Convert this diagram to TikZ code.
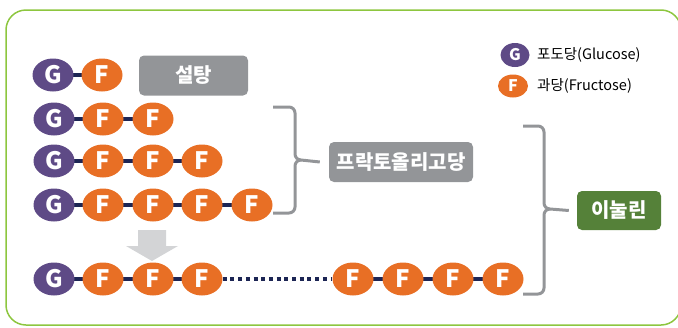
\documentclass[tikz,border=0pt]{standalone}
\usepackage{fontspec}
\setmainfont{Noto Sans CJK KR}
\usepackage{tikz}
\usetikzlibrary{shapes.geometric}

\definecolor{glupurple}{HTML}{5E4A86}
\definecolor{fruorange}{HTML}{E86F25}
\definecolor{bondnavy}{HTML}{1C2554}
\definecolor{bracegray}{HTML}{939598}
\definecolor{arrowgray}{HTML}{D3D4D6}
\definecolor{framegreen}{HTML}{8DC63F}
\definecolor{inulingreen}{HTML}{558139}

\begin{document}
\begin{tikzpicture}[x=1pt,y=-1pt,
	every node/.style={inner sep=0pt},
	sugar/.style={ellipse,minimum width=41pt,minimum height=33pt,text=white,
		font=\fontsize{24}{24}\selectfont\bfseries},
	glu/.style={sugar,fill=glupurple},
	fru/.style={sugar,fill=fruorange},
	keyglu/.style={glu,minimum width=29pt,minimum height=24pt,font=\fontsize{16}{16}\selectfont\bfseries},
	keyfru/.style={fru,minimum width=30pt,minimum height=23pt,font=\fontsize{16}{16}\selectfont\bfseries},
	bond/.style={bondnavy,line width=4pt},
	brace/.style={bracegray,line width=3pt,line join=round},
	tag/.style={rounded corners=5pt,text=white,minimum height=40pt,
		font=\fontsize{20}{20}\selectfont\bfseries}]
	\useasboundingbox (0,0) rectangle (678,327);
	\draw [framegreen,line width=1.5pt,rounded corners=20pt] (6,10) rectangle (681,325);
	% legend
	\node [keyglu] (keyg) at (515,55) {G};
	\node [anchor=west,font=\fontsize{14.5}{14.5}\selectfont] (keygtext) at (537,55) {포도당(Glucose)};
	\node [keyfru] (keyf) at (513,86) {F};
	\node [anchor=west,font=\fontsize{14.5}{14.5}\selectfont] (keyftext) at (537,86) {과당(Fructose)};
	% sucrose
	\draw [bond] (53,75) -- (102,75);
	\node [glu] (ga) at (53,75) {G};
	\node [fru] (fa1) at (102,75) {F};
	\node [tag,fill=bracegray,minimum width=109pt] (sucrose) at (193.5,75.5) {설탕};
	% fructooligosaccharides
	\draw [bond] (54,119) -- (153,119);
	\node [glu] (gb) at (54,119) {G};
	\node [fru] (fb1) at (103,119) {F};
	\node [fru] (fb2) at (153,119) {F};
	\draw [bond] (54,161) -- (202,161);
	\node [glu] (gc) at (54,161) {G};
	\node [fru] (fc1) at (103,161) {F};
	\node [fru] (fc2) at (153,161) {F};
	\node [fru] (fc3) at (202,161) {F};
	\draw [bond] (54,205) -- (252,205);
	\node [glu] (gd) at (54,205) {G};
	\node [fru] (fd1) at (103,205) {F};
	\node [fru] (fd2) at (153,205) {F};
	\node [fru] (fd3) at (202,205) {F};
	\node [fru] (fd4) at (252,205) {F};
	\node [tag,fill=bracegray,minimum width=144pt] (fos) at (401,162) {프락토올리고당};
	% arrow
	\fill [arrowgray] (138,230) -- (166,230) -- (166,246) -- (178,246) -- (152,261)
		-- (126,246) -- (138,246) -- cycle;
	% inulin
	\draw [bond] (54,279) -- (202,279);
	\draw [bond] (353,279) -- (503,279);
	\node [glu] (ge) at (54,279) {G};
	\node [fru] (fe1) at (103,279) {F};
	\node [fru] (fe2) at (153,279) {F};
	\node [fru] (fe3) at (202,279) {F};
	\node [fru] (fe4) at (353,279) {F};
	\node [fru] (fe5) at (403,279) {F};
	\node [fru] (fe6) at (453,279) {F};
	\node [fru] (fe7) at (503,279) {F};
	\draw [bondnavy,line width=4pt,dash pattern=on 4pt off 3.7pt] (fe3) -- (fe4);
	\node [tag,fill=inulingreen,minimum width=84pt,minimum height=39pt] (inulin) at (619,210.5) {이눌린};
	% braces
	\draw [brace] (273,107) -- (289,107) to[out=0,in=90] (295,113) -- (295,154)
		to[out=-90,in=180] (301,160) -- ([xshift=-9pt]fos.west);
	\draw [brace] (273,213) -- (289,213) to[out=0,in=-90] (295,207) -- (295,166)
		to[out=90,in=180] (301,160);
	\draw [brace] (523,126) -- (538,126) to[out=0,in=90] (544,132) -- (544,203)
		to[out=-90,in=180] (550,209) -- ([xshift=-8pt]inulin.west);
	\draw [brace] (523,294) -- (538,294) to[out=0,in=-90] (544,288) -- (544,215)
		to[out=90,in=180] (550,209);
\end{tikzpicture}
\end{document}
